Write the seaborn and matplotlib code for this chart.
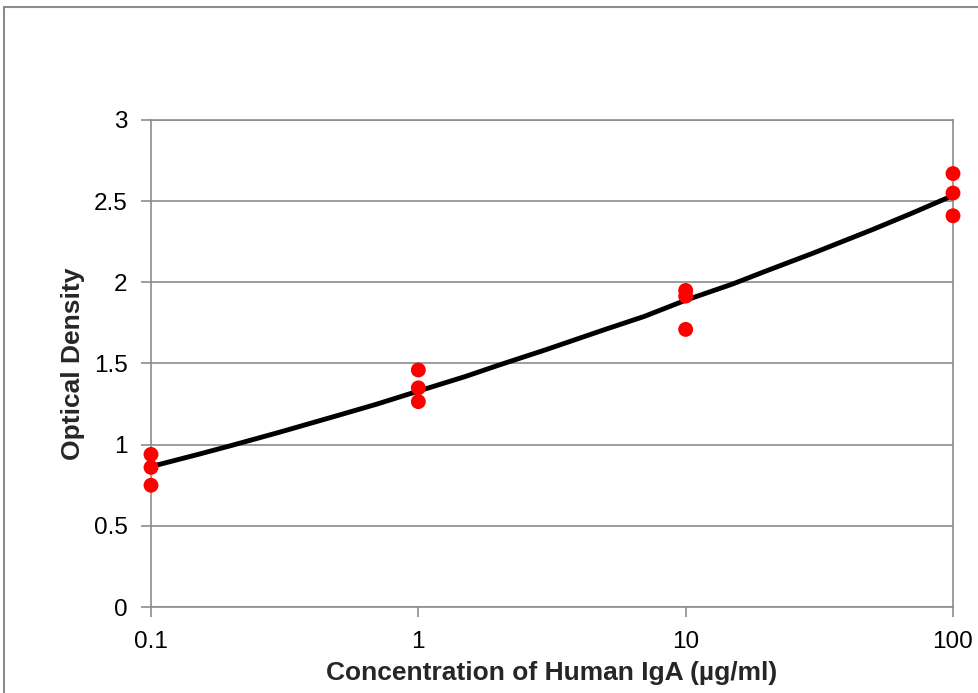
import matplotlib
matplotlib.use("Agg")
import matplotlib.pyplot as plt
import seaborn as sns
import pandas as pd
from matplotlib.patches import Rectangle

# Replicate measurements
conc = [0.1, 0.1, 0.1, 1, 1, 1, 10, 10, 10, 100, 100, 100]
od = [0.94, 0.86, 0.75, 1.46, 1.35, 1.265, 1.95, 1.915, 1.71, 2.67, 2.55, 2.41]

# Fitted standard curve
fit_conc = [0.1, 0.15, 0.2, 0.3, 0.5, 0.7, 1, 1.5, 2, 3, 5, 7,
            10, 15, 20, 30, 50, 70, 100]
fit_od = [0.865, 0.94, 0.995, 1.075, 1.18, 1.25, 1.33, 1.42, 1.49, 1.585,
          1.71, 1.79, 1.89, 1.99, 2.07, 2.18, 2.325, 2.425, 2.535]

x_ticks = [0.1, 1, 10, 100]
x_tick_labels = ["0.1", "1", "10", "100"]
y_ticks = [0, 0.5, 1, 1.5, 2, 2.5, 3]
y_tick_labels = ["0", "0.5", "1", "1.5", "2", "2.5", "3"]

pts = pd.DataFrame({"conc": conc, "od": od})
fit = pd.DataFrame({"conc": fit_conc, "od": fit_od})

sns.set_theme(style="white")
plt.rcParams["font.family"] = ["Liberation Sans", "DejaVu Sans"]

fig = plt.figure(figsize=(9.79, 6.93), dpi=100)
ax = fig.add_axes([151 / 979, 86 / 693, (953 - 151) / 979, (607 - 120) / 693])
ax.set_xscale("log")

gray = "#8c8c8c"
for y in y_ticks:
    ax.axhline(y, color=gray, lw=1.2, zorder=0)

sns.lineplot(data=fit, x="conc", y="od", color="black", lw=3.5, sort=False,
             estimator=None, ax=ax, zorder=2)
sns.scatterplot(data=pts, x="conc", y="od", color="#ff0000", s=115,
                edgecolor="none", ax=ax, zorder=3, clip_on=False)

ax.set_xlim(0.1, 100)
ax.set_ylim(0, 3)
ax.set_xticks(x_ticks)
ax.set_xticklabels(x_tick_labels)
ax.xaxis.set_minor_locator(matplotlib.ticker.NullLocator())
ax.set_yticks(y_ticks)
ax.set_yticklabels(y_tick_labels)

for s in ax.spines.values():
    s.set_color(gray)
    s.set_linewidth(1.2)

ax.tick_params(axis="both", which="major", direction="out", length=7,
               width=1.2, color=gray, labelsize=17.5, labelcolor="black",
               bottom=True, left=True)
ax.tick_params(axis="x", pad=10)
ax.tick_params(axis="y", pad=10)

ax.set_xlabel("Concentration of Human IgA (µg/ml)", fontsize=19,
              fontweight="bold", labelpad=6)
ax.set_ylabel("Optical Density", fontsize=19, fontweight="bold", labelpad=6)

# outer chart border (cropped on right and bottom)
fig.patches.append(Rectangle((4 / 979, -0.1), 1.2, (693 - 7) / 693 + 0.1,
                             transform=fig.transFigure, fill=False,
                             edgecolor=gray, lw=1.5))

fig.savefig("out.png", dpi=100)
